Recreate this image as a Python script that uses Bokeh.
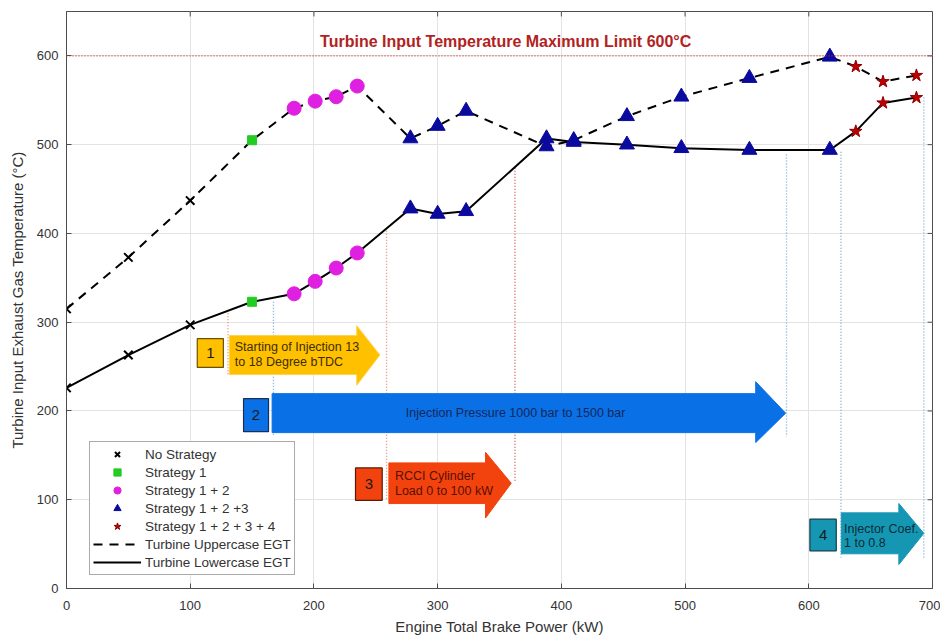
from bokeh.plotting import figure
from bokeh.models import Range1d, FixedTicker, Legend, LegendItem, Span
from bokeh.core.properties import value
from bokeh.embed import file_html
from bokeh.resources import INLINE

# ---------------- data ----------------
no_x = [0, 50, 100]
no_up = [315, 373, 437]
no_lo = [226, 263, 297]

s1_x = [150]
s1_up = [505]
s1_lo = [323]

s12_x = [184, 201, 218, 235]
s12_up = [541, 549, 554, 566]
s12_lo = [332, 346, 361, 378]

s123_x = [278, 300, 323, 388, 410, 453, 497, 552, 617]
s123_up = [507, 521, 538, 498, 505, 532, 554, 575, 599]
s123_lo = [428, 422, 425, 507, 503, 500, 496, 494, 494]

s1234_x = [638, 660, 687]
s1234_up = [588, 571, 578]
s1234_lo = [515, 547, 553]

limit_temp = 600
x_ticks = [0, 100, 200, 300, 400, 500, 600, 700]
y_ticks = [0, 100, 200, 300, 400, 500, 600]

FONT = "Liberation Sans"
X_MAX, Y_MAX = 700, 650

p = figure(width=940, height=637, output_backend="svg", toolbar_location=None,
           x_range=Range1d(0, X_MAX), y_range=Range1d(0, Y_MAX),
           min_border_left=66, min_border_right=8, min_border_top=11, min_border_bottom=48)
p.background_fill_color = "white"
p.border_fill_color = "white"
p.outline_line_color = "#4d4d4d"
p.outline_line_width = 1

for ax in (p.xaxis, p.yaxis):
    ax.major_tick_in = 5
    ax.major_tick_out = 0
    ax.minor_tick_line_color = None
    ax.axis_line_color = "#4d4d4d"
    ax.major_tick_line_color = "#4d4d4d"
    ax.major_label_text_font = FONT
    ax.major_label_text_font_size = "13px"
    ax.major_label_text_color = "#333333"
    ax.axis_label_text_font = FONT
    ax.axis_label_text_font_size = "15px"
    ax.axis_label_text_font_style = "normal"
    ax.axis_label_text_color = "#333333"
p.xaxis.ticker = FixedTicker(ticks=x_ticks)
p.yaxis.ticker = FixedTicker(ticks=y_ticks)
p.xaxis.axis_label = "Engine Total Brake Power (kW)"
p.yaxis.axis_label = "Turbine Input Exhaust Gas Temperature (°C)"
p.xaxis.major_label_standoff = 12
p.xaxis.axis_label_standoff = 5
p.yaxis.major_label_standoff = 8
p.yaxis.axis_label_standoff = 8

p.xgrid.ticker = FixedTicker(ticks=x_ticks)
p.ygrid.ticker = FixedTicker(ticks=y_ticks)
p.xgrid.grid_line_color = "#e3e3e3"
p.ygrid.grid_line_color = "#e3e3e3"

# top / right inner tick marks (MATLAB box style)
tx = [t for t in x_ticks if 0 < t < X_MAX]
ty = [t for t in y_ticks if 0 < t < Y_MAX]
p.segment(x0=tx, y0=[Y_MAX] * len(tx), x1=tx, y1=[Y_MAX - 5.6] * len(tx), line_color="#4d4d4d")
p.segment(x0=[X_MAX] * len(ty), y0=ty, x1=[X_MAX - 4.0] * len(ty), y1=ty, line_color="#4d4d4d")

# limit line
p.add_layout(Span(location=limit_temp, dimension="width", line_color="#c0392b",
                  line_dash="1 2", line_width=1.2))
p.text(x=[355], y=[616], text=["Turbine Input Temperature Maximum Limit 600°C"],
       text_font=value(FONT), text_font_style="bold",
       text_font_size="16px", text_color="#b22222", text_align="center", text_baseline="middle")

# vertical dotted guide lines
guides = [
    (130.5, 310, 240, "#e08a6a"),
    (167.3, 323, 172, "#6aa8d8"),
    (258.7, 403, 100, "#e08a6a"),
    (362.5, 474, 119, "#c85050"),
    (582, 489, 171, "#6aa8d8"),
    (626, 492, 35, "#6aa8d8"),
    (693, 553, 35, "#6aa8d8"),
]
for gx, gy0, gy1, gc in guides:
    p.segment(x0=[gx], y0=[gy0], x1=[gx], y1=[gy1], line_color=gc, line_dash="1 2", line_width=1.3)

# arrows
def arrow(x0, xb, xt, yb0, yb1, yh0, yh1, color, line):
    yc = (yb0 + yb1) / 2
    xs = [x0, xb, xb, xt, xb, xb, x0]
    ys = [yb1, yb1, yh1, yc, yh0, yb0, yb0]
    p.patch(xs, ys, fill_color=color, line_color=line, line_width=1)

def numbox(x0, x1, y0, y1, label, color, border):
    p.quad(left=[x0], right=[x1], bottom=[y0], top=[y1], fill_color=color, line_color=border, line_width=1.2)
    p.text(x=[(x0 + x1) / 2], y=[(y0 + y1) / 2], text=[label], text_font=value(FONT),
           text_font_size="15px", text_color="#1a1a1a", text_align="center", text_baseline="middle")

# arrow 1
arrow(131.6, 234.6, 253.3, 241, 285, 229, 296, "#ffc000", "#ffd24d")
numbox(105.7, 126.8, 249, 281.5, "1", "#ffc000", "#6b5200")
p.text(x=[136, 136], y=[272.5, 255.5], text=["Starting of Injection 13", "to 18 Degree bTDC"],
       text_font=value(FONT), text_font_size="12.5px", text_color="#3d2e00", text_baseline="middle")

# arrow 2
arrow(166.2, 557.1, 581.3, 175.6, 219.5, 164.4, 233, "#0a70e6", "#0a70e6")
numbox(143.1, 163.3, 176.7, 213.9, "2", "#0a70e6", "#1a2f55")
p.text(x=[363], y=[197.5], text=["Injection Pressure 1000 bar to 1500 bar"],
       text_font=value(FONT), text_font_size="12.5px", text_color="#14285a",
       text_align="center", text_baseline="middle")

# arrow 3
arrow(260.6, 338.7, 359.5, 95.7, 141.5, 79.4, 153.4, "#f2430f", "#f2430f")
numbox(233.6, 255.2, 99.3, 135.8, "3", "#f2430f", "#5a1a05")
p.text(x=[265.5, 265.5], y=[126.5, 109.5], text=["RCCI Cylinder", "Load 0 to 100 kW"],
       text_font=value(FONT), text_font_size="12.5px", text_color="#5a0f00", text_baseline="middle")

# arrow 4
arrow(626.3, 672.8, 693.0, 39.1, 85.2, 27.0, 95.7, "#1597b4", "#1597b4")
numbox(600.9, 622.2, 42.4, 78.1, "4", "#1597b4", "#0d3c48")
p.text(x=[628.5, 628.5], y=[67.5, 51.5], text=["Injector Coef.", "1 to 0.8"],
       text_font=value(FONT), text_font_size="12.5px", text_color="#0b2d36", text_baseline="middle")

# EGT lines
up_x = no_x + s1_x + s12_x + s123_x + s1234_x
up_y = no_up + s1_up + s12_up + s123_up + s1234_up
lo_y = no_lo + s1_lo + s12_lo + s123_lo + s1234_lo
r_up = p.line(up_x, up_y, line_color="black", line_width=2, line_dash="9 7")
r_lo = p.line(up_x, lo_y, line_color="black", line_width=2)

r_no = p.scatter(no_x + no_x, no_up + no_lo, marker="x", size=12, line_color="black", line_width=2)
r_s1 = p.scatter(s1_x + s1_x, s1_up + s1_lo, marker="square", size=9,
                 fill_color="#22cc22", line_color="#22cc22")
r_s12 = p.scatter(s12_x + s12_x, s12_up + s12_lo, marker="circle", size=14,
                  fill_color="#e020e0", line_color="#e020e0")
r_s123 = p.scatter(s123_x + s123_x, s123_up + s123_lo, marker="triangle", size=15,
                   fill_color="#0a0a9e", line_color="#0a0a9e")
r_s1234 = p.scatter(s1234_x + s1234_x, s1234_up + s1234_lo, marker="star", size=13,
                    fill_color="#c00000", line_color="#8b0000")

legend = Legend(items=[
    LegendItem(label="No Strategy", renderers=[r_no]),
    LegendItem(label="Strategy 1", renderers=[r_s1]),
    LegendItem(label="Strategy 1 + 2", renderers=[r_s12]),
    LegendItem(label="Strategy 1 + 2 +3", renderers=[r_s123]),
    LegendItem(label="Strategy 1 + 2 + 3 + 4", renderers=[r_s1234]),
    LegendItem(label="Turbine Uppercase EGT", renderers=[r_up]),
    LegendItem(label="Turbine Lowercase EGT", renderers=[r_lo]),
], location=(23, 13), glyph_width=48, glyph_height=18, label_height=18, spacing=0,
   padding=3, margin=0, label_standoff=4, label_text_font=FONT, label_text_font_size="13.5px",
   label_text_color="#333333", border_line_color="#555555", border_line_width=1,
   background_fill_color="white", background_fill_alpha=1)
p.add_layout(legend, "center")

open("out.html", "w").write(file_html(p, INLINE))
